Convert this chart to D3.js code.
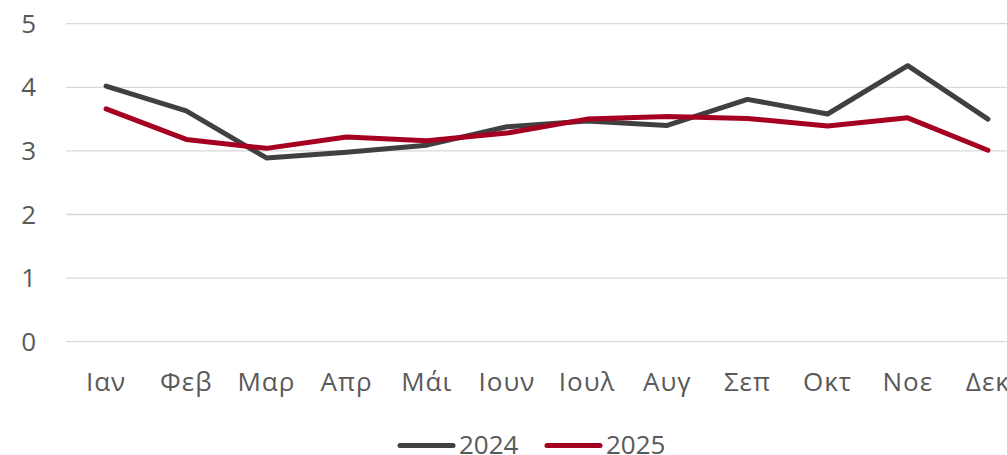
<!DOCTYPE html>
<html>
<head>
<meta charset="utf-8">
<script src="https://cdn.jsdelivr.net/npm/d3@7"></script>
<style>
  html, body { margin: 0; padding: 0; background: #fff; }
  svg { display: block; }
  text { font-family: "Open Sans", "DejaVu Sans", sans-serif; fill: #595959; }
</style>
</head>
<body>
<svg id="chart" width="1007" height="455"></svg>
<script>
// Monthly values for two years
const months = ["Ιαν", "Φεβ", "Μαρ", "Απρ", "Μάι", "Ιουν", "Ιουλ", "Αυγ", "Σεπ", "Οκτ", "Νοε", "Δεκ"];
const values2024 = [4.02, 3.63, 2.89, 2.98, 3.09, 3.38, 3.47, 3.40, 3.81, 3.58, 4.34, 3.50];
const values2025 = [3.66, 3.18, 3.04, 3.22, 3.16, 3.28, 3.50, 3.54, 3.51, 3.39, 3.52, 3.01];
const yTicks = [0, 1, 2, 3, 4, 5];
const seriesNames = ["2024", "2025"];
const seriesColors = ["#404040", "#a50021"];

const svg = d3.select("#chart");
const fontSize = 26;

const x = d3.scaleBand().domain(months).range([66, 1028]);
const y = d3.scaleLinear().domain([0, 5]).range([341.7, 23.7]);

// Horizontal gridlines
svg.append("g")
  .selectAll("line")
  .data(yTicks)
  .join("line")
  .attr("x1", 66).attr("x2", 1028)
  .attr("y1", d => y(d)).attr("y2", d => y(d))
  .attr("stroke", "#d9d9d9").attr("stroke-width", 1.3);

// Y axis labels
const yAxis = svg.append("g")
  .attr("transform", "translate(36,0)")
  .call(d3.axisLeft(y).tickValues(yTicks).tickSize(0).tickPadding(0).tickFormat(d3.format("d")));
yAxis.select(".domain").remove();
yAxis.selectAll("text")
  .attr("font-size", fontSize)
  .attr("dy", "0.33em")
  .style("font-family", "'Open Sans', sans-serif")
  .attr("fill", "#595959");

// X axis labels
const xAxis = svg.append("g")
  .attr("transform", "translate(0,373)")
  .call(d3.axisBottom(x).tickSize(0).tickPadding(0));
xAxis.select(".domain").remove();
xAxis.selectAll("text")
  .attr("font-size", fontSize)
  .attr("dy", "0.71em")
  .attr("letter-spacing", 1)
  .style("font-family", "'Open Sans', sans-serif")
  .attr("fill", "#595959");

// Lines
const line = d3.line()
  .x((d, i) => x(months[i]) + x.bandwidth() / 2)
  .y(d => y(d));

[values2024, values2025].forEach((vals, k) => {
  svg.append("path")
    .datum(vals)
    .attr("d", line)
    .attr("fill", "none")
    .attr("stroke", seriesColors[k])
    .attr("stroke-width", 5)
    .attr("stroke-linejoin", "round")
    .attr("stroke-linecap", "round");
});

// Legend
const legendItems = [
  { name: seriesNames[0], color: seriesColors[0], x0: 400 },
  { name: seriesNames[1], color: seriesColors[1], x0: 547 }
];
const legend = svg.append("g");
legendItems.forEach(it => {
  legend.append("line")
    .attr("x1", it.x0).attr("x2", it.x0 + 53)
    .attr("y1", 445.5).attr("y2", 445.5)
    .attr("stroke", it.color).attr("stroke-width", 5)
    .attr("stroke-linecap", "round");
  legend.append("text")
    .attr("x", it.x0 + 59).attr("y", 454)
    .attr("font-size", fontSize)
    .text(it.name);
});
</script>
</body>
</html>
